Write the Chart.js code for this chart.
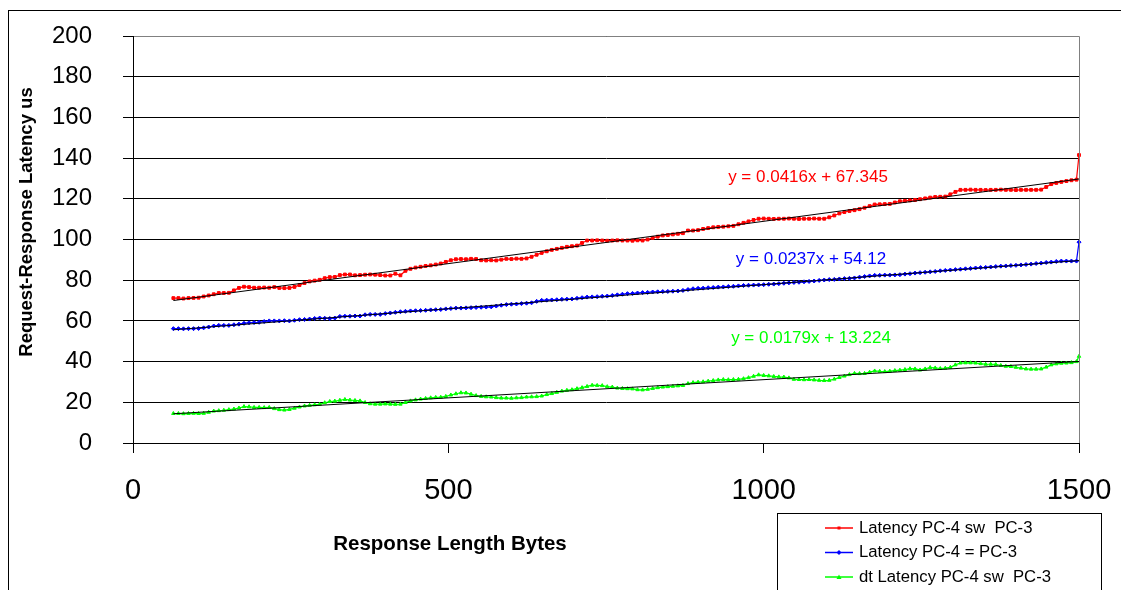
<!DOCTYPE html>
<html>
<head>
<meta charset="utf-8">
<script src="https://cdn.jsdelivr.net/npm/chart.js"></script>
<style>
	html, body { margin: 0; padding: 0; background: #fff; }
	#wrap { width: 1121px; height: 590px; }
</style>
</head>
<body>
<div id="wrap"><canvas id="latencyChart" width="1121" height="590"></canvas></div>
<script>
// response length in bytes (x)
var byteSizes = [
	64,72,80,88,96,104,112,120,128,136,
	144,152,160,168,176,184,192,200,208,216,
	224,232,240,248,256,264,272,280,288,296,
	304,312,320,328,336,344,352,360,368,376,
	384,392,400,408,416,424,432,440,448,456,
	464,472,480,488,496,504,512,520,528,536,
	544,552,560,568,576,584,592,600,608,616,
	624,632,640,648,656,664,672,680,688,696,
	704,712,720,728,736,744,752,760,768,776,
	784,792,800,808,816,824,832,840,848,856,
	864,872,880,888,896,904,912,920,928,936,
	944,952,960,968,976,984,992,1000,1008,1016,
	1024,1032,1040,1048,1056,1064,1072,1080,1088,1096,
	1104,1112,1120,1128,1136,1144,1152,1160,1168,1176,
	1184,1192,1200,1208,1216,1224,1232,1240,1248,1256,
	1264,1272,1280,1288,1296,1304,1312,1320,1328,1336,
	1344,1352,1360,1368,1376,1384,1392,1400,1408,1416,
	1424,1432,1440,1448,1456,1464,1472,1480,1488,1496,
	1500
];

// Latency PC-4 sw  PC-3
var latencySw = [
	71.2,71.2,71.0,71.2,71.3,71.4,72.0,72.5,73.1,73.7,
	73.7,73.8,75.0,76.2,76.8,76.6,76.3,76.3,76.4,76.3,
	76.6,76.2,76.1,76.2,76.7,77.6,78.6,79.4,79.8,80.2,
	81.0,81.5,81.6,82.5,82.8,82.8,82.4,82.5,82.7,82.8,
	82.7,82.5,82.3,82.3,83.2,82.4,84.6,85.6,86.2,86.6,
	87.0,87.3,87.7,88.2,89.0,89.8,90.3,90.4,90.3,90.5,
	90.4,89.8,89.7,89.8,89.7,90.1,90.5,90.4,90.6,90.5,
	90.7,91.5,92.5,93.4,94.2,94.9,95.4,95.9,96.4,96.7,
	97.0,98.3,99.5,99.5,99.6,99.5,99.4,99.5,99.6,99.5,
	99.5,99.4,99.6,99.5,100.0,100.8,101.4,102.0,102.2,102.5,
	102.8,103.1,104.4,104.4,104.6,105.2,105.6,106.0,106.2,106.3,
	106.5,106.7,107.5,108.2,108.9,109.6,110.2,110.3,110.2,110.1,
	110.2,110.2,110.3,110.2,110.1,110.2,110.2,110.3,110.2,110.2,
	110.9,111.8,112.8,113.5,114.0,114.4,114.9,115.6,116.4,117.2,
	117.3,117.4,117.5,118.2,118.8,119.0,119.2,119.4,119.8,120.2,
	120.6,120.9,121.0,121.1,122.2,123.4,124.4,124.4,124.5,124.4,
	124.4,124.3,124.4,124.4,124.5,124.4,124.4,124.3,124.4,124.4,
	124.4,124.4,124.5,125.8,127.2,127.8,128.3,128.7,129.1,129.4,
	141.5
];

// Latency PC-4 = PC-3
var latencyDirect = [
	56.2,56.2,56.1,56.2,56.2,56.3,56.6,57.0,57.5,57.8,
	57.8,57.8,58.1,58.4,58.8,59.1,59.2,59.3,59.7,60.0,
	60.0,60.0,60.1,60.0,60.3,60.6,60.7,60.9,61.2,61.4,
	61.3,61.2,61.4,62.2,62.3,62.3,62.4,62.4,63.0,63.2,
	63.2,63.2,63.6,63.9,64.2,64.5,64.7,64.9,65.0,65.1,
	65.2,65.4,65.5,65.6,65.9,66.1,66.3,66.3,66.4,66.5,
	66.6,66.7,66.8,66.9,67.3,67.7,68.0,68.2,68.3,68.5,
	68.7,68.9,69.6,70.1,70.2,70.3,70.4,70.6,70.7,70.8,
	71.1,71.4,71.7,71.8,71.9,72.1,72.2,72.5,72.8,73.1,
	73.4,73.5,73.7,73.9,74.0,74.2,74.3,74.4,74.5,74.6,
	74.7,75.0,75.4,75.8,76.0,76.1,76.3,76.4,76.6,76.7,
	76.9,77.0,77.2,77.4,77.5,77.6,77.7,77.8,78.0,78.1,
	78.3,78.5,78.7,78.9,79.0,79.2,79.4,79.6,79.9,80.1,
	80.3,80.4,80.6,80.8,80.9,81.1,81.5,81.8,82.1,82.4,
	82.4,82.5,82.5,82.6,82.7,83.0,83.2,83.5,83.7,83.9,
	84.1,84.3,84.6,84.8,85.0,85.2,85.4,85.6,85.8,86.0,
	86.2,86.3,86.5,86.7,86.9,87.0,87.2,87.3,87.5,87.7,
	87.9,88.2,88.4,88.7,88.9,89.2,89.4,89.4,89.4,89.4,
	98.7
];

// dt Latency PC-4 sw  PC-3
var latencyDt = [
	14.5,14.5,14.4,14.5,14.6,14.5,14.6,15.1,15.7,15.9,
	16.1,16.4,16.7,17.2,17.9,17.8,17.5,17.5,17.4,17.5,
	16.9,16.4,16.2,16.5,17.1,17.7,18.2,18.5,18.8,19.0,
	19.8,20.4,20.6,21.0,21.4,21.1,20.9,20.7,19.9,19.3,
	19.1,19.1,19.2,19.1,19.0,19.1,19.9,20.7,21.2,21.6,
	21.9,22.2,22.4,22.5,22.9,23.6,24.2,24.7,24.6,24.0,
	23.3,22.9,22.7,22.6,22.3,22.1,22.1,22.0,22.2,22.3,
	22.6,22.7,22.8,23.1,23.8,24.3,24.9,25.5,25.9,26.2,
	26.7,27.2,27.8,28.4,28.3,28.2,27.7,27.5,27.0,26.8,
	26.7,26.6,26.2,26.1,26.4,26.8,27.2,27.5,27.7,27.9,
	28.1,28.3,29.2,29.7,29.9,30.1,30.4,30.7,31.0,31.2,
	31.1,31.2,31.3,31.6,32.1,32.8,33.5,33.2,33.0,32.7,
	32.5,32.4,32.0,31.3,31.2,31.1,31.2,31.0,30.8,30.7,
	30.8,31.4,32.2,32.9,33.6,34.2,34.1,34.2,34.8,35.4,
	35.2,35.1,35.3,35.6,35.8,36.1,36.5,36.4,35.9,36.4,
	37.1,36.9,36.6,36.8,37.2,38.4,39.3,39.4,39.4,39.3,
	39.0,38.7,38.7,38.6,38.1,37.7,37.6,37.2,36.8,36.4,
	36.3,36.3,36.4,37.3,38.4,38.9,39.2,39.3,39.5,40.0,
	42.6
];

var seriesNames = ['Latency PC-4 sw  PC-3', 'Latency PC-4 = PC-3', 'dt Latency PC-4 sw  PC-3'];
var seriesColors = ['#FF0000', '#0000FF', '#00FF00'];
var seriesMarkers = ['rect', 'rectRot', 'triangle'];

// linear trendlines shown on the chart
var fitSlopes = [0.0416, 0.0237, 0.0179];
var fitIntercepts = [67.345, 54.12, 13.224];
var fitLabels = ['y = 0.0416x + 67.345', 'y = 0.0237x + 54.12', 'y = 0.0179x + 13.224'];
var fitRange = [64, 1500];

var xAxisTitle = 'Response Length Bytes';
var yAxisTitle = 'Request-Response Latency us';

var FONT = '"Liberation Sans", Arial, sans-serif';

function toPoints(values) {
	return values.map(function(v, i) { return { x: byteSizes[i], y: v }; });
}

var seriesValues = [latencySw, latencyDirect, latencyDt];
var datasets = [];
for (var i = 0; i < 3; i++) {
	datasets.push({
		label: seriesNames[i],
		data: toPoints(seriesValues[i]),
		borderColor: seriesColors[i],
		backgroundColor: seriesColors[i],
		borderWidth: 1.2,
		pointStyle: seriesMarkers[i],
		pointRadius: 2,
		pointBorderWidth: 1,
		pointBackgroundColor: seriesColors[i],
		pointBorderColor: seriesColors[i],
		clip: false,
		order: 1
	});
}
for (var j = 0; j < 3; j++) {
	datasets.push({
		label: 'trend' + j,
		data: fitRange.map(function(x) { return { x: x, y: fitSlopes[j] * x + fitIntercepts[j] }; }),
		borderColor: '#000000',
		borderWidth: 1,
		pointRadius: 0,
		order: 0
	});
}

var decor = {
	id: 'decor',
	beforeDraw: function(chart) {
		var ctx = chart.ctx;
		ctx.save();
		ctx.fillStyle = '#ffffff';
		ctx.fillRect(0, 0, chart.width, chart.height);
		ctx.restore();
	},
	afterDraw: function(chart) {
		var ctx = chart.ctx;
		var ca = chart.chartArea;
		ctx.save();

		// outer frame
		ctx.strokeStyle = '#000000';
		ctx.lineWidth = 1;
		ctx.strokeRect(8.5, 10.5, 1300, 800);

		// plot area border (top / right)
		ctx.strokeStyle = '#808080';
		ctx.beginPath();
		ctx.moveTo(ca.left + 1, ca.top + 0.5);
		ctx.lineTo(ca.right + 0.5, ca.top + 0.5);
		ctx.lineTo(ca.right + 0.5, ca.bottom);
		ctx.stroke();

		// axis titles
		ctx.fillStyle = '#000000';
		ctx.textAlign = 'center';
		ctx.textBaseline = 'middle';
		ctx.font = 'bold 20.5px ' + FONT;
		ctx.fillText(xAxisTitle, 450, 544);
		ctx.save();
		ctx.translate(27, 222);
		ctx.rotate(-Math.PI / 2);
		ctx.font = 'bold 18.5px ' + FONT;
		ctx.fillText(yAxisTitle, 0, 0);
		ctx.restore();

		// trendline equations
		var eqPos = [[808, 177], [811, 259], [811, 338]];
		ctx.font = '17px ' + FONT;
		for (var k = 0; k < 3; k++) {
			ctx.fillStyle = seriesColors[k];
			ctx.fillText(fitLabels[k], eqPos[k][0], eqPos[k][1]);
		}

		// legend box
		ctx.strokeStyle = '#000000';
		ctx.lineWidth = 1;
		ctx.strokeRect(777.5, 513.5, 324, 200);
		ctx.textAlign = 'left';
		ctx.font = '16.7px ' + FONT;
		for (var m = 0; m < 3; m++) {
			var ly = 528 + m * 24.5;
			ctx.strokeStyle = seriesColors[m];
			ctx.fillStyle = seriesColors[m];
			ctx.lineWidth = 1.5;
			ctx.beginPath();
			ctx.moveTo(825, ly);
			ctx.lineTo(853, ly);
			ctx.stroke();
			ctx.beginPath();
			if (m === 0) {
				ctx.rect(837.5, ly - 1.5, 3, 3);
			} else if (m === 1) {
				ctx.moveTo(839, ly - 2.5); ctx.lineTo(841.5, ly); ctx.lineTo(839, ly + 2.5); ctx.lineTo(836.5, ly);
			} else {
				ctx.moveTo(839, ly - 2.5); ctx.lineTo(841.5, ly + 2); ctx.lineTo(836.5, ly + 2);
			}
			ctx.closePath();
			ctx.fill();
			ctx.fillStyle = '#000000';
			ctx.fillText(seriesNames[m], 859, ly);
		}
		ctx.restore();
	}
};

var ctx = document.getElementById('latencyChart').getContext('2d');
var chart = new Chart(ctx, {
	type: 'line',
	data: { datasets: datasets },
	options: {
		responsive: false,
		animation: false,
		events: [],
		layout: { padding: { left: 0, top: 36, right: 42, bottom: 0 } },
		plugins: {
			legend: { display: false },
			tooltip: { enabled: false }
		},
		scales: {
			x: {
				type: 'linear',
				min: 0,
				max: 1500,
				ticks: {
					stepSize: 500, color: '#000', font: { family: FONT, size: 29 }, padding: 21, maxRotation: 0,
					callback: function(value) { return String(value); }
				},
				grid: { drawOnChartArea: false, drawTicks: true, tickLength: 10, color: '#000' },
				border: { color: '#000', width: 1 },
				afterFit: function(scale) {
					scale.height = 147;
					scale.paddingLeft = 0;
					scale.paddingRight = 0;
				}
			},
			y: {
				min: 0,
				max: 200,
				ticks: {
					stepSize: 20, color: '#000', font: { family: FONT, size: 24 }, padding: 31,
					callback: function(value) { return String(value); }
				},
				grid: { color: '#000', lineWidth: 1, tickLength: 10 },
				border: { color: '#000', width: 1 },
				afterFit: function(scale) {
					scale.width = 133;
					scale.paddingTop = 0;
					scale.paddingBottom = 0;
				}
			}
		}
	},
	plugins: [decor]
});
</script>
</body>
</html>
